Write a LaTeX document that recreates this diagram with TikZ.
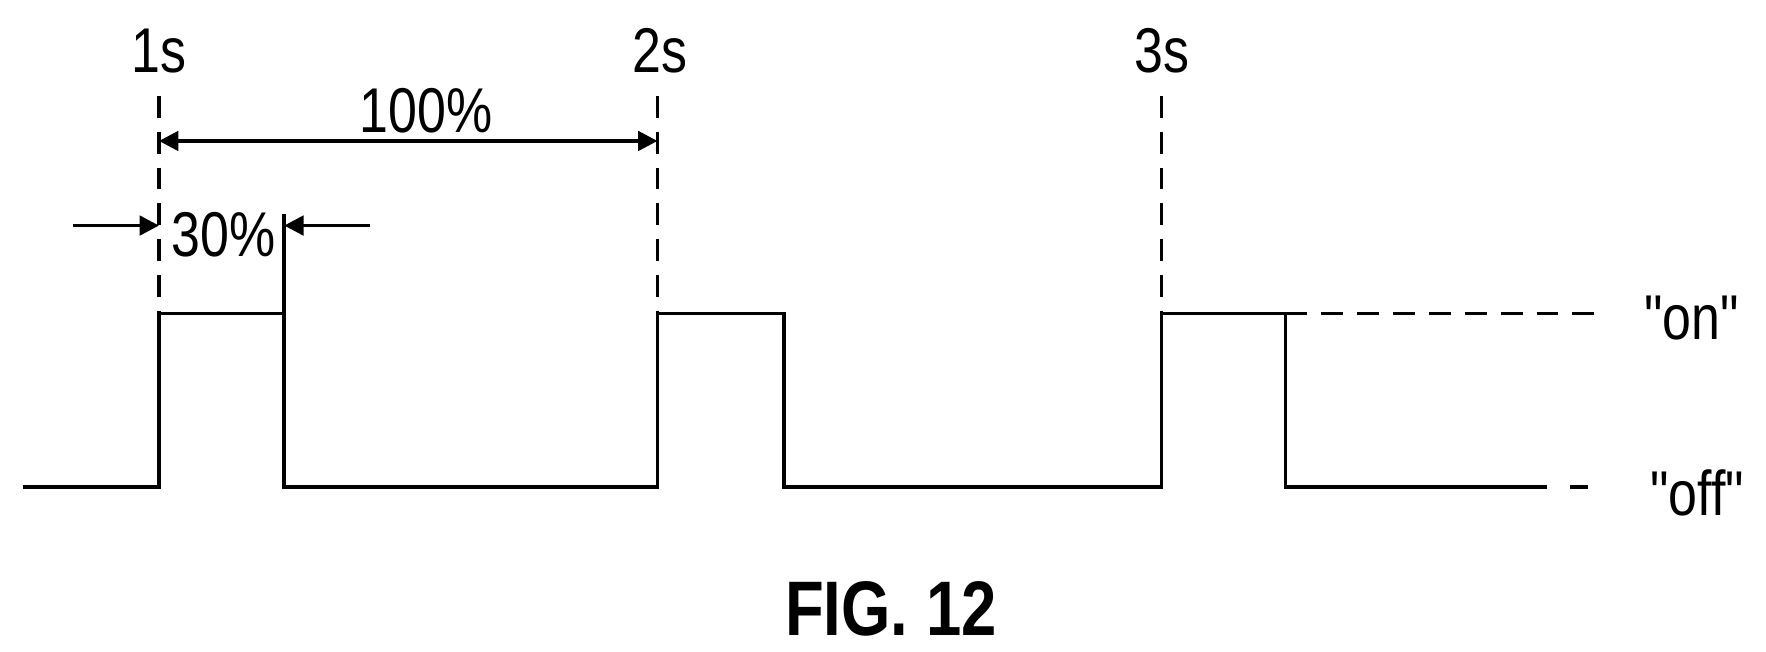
\documentclass[tikz,border=0pt]{standalone}
\usepackage{fontspec}
\setmainfont{Liberation Sans}[Ligatures=TeXOff]
\usetikzlibrary{arrows.meta}
\begin{document}
\begin{tikzpicture}[x=0.011277cm,y=-0.011277cm,
  wave/.style={line width=1.05pt},
  dashd/.style={line width=1.05pt,dash pattern=on 6.2pt off 4pt},
  tip/.tip={Triangle[length=5.5pt,width=5.5pt]},
  dim/.style={line width=1.05pt,-tip},
  lbl/.style={font=\fontsize{18}{20}\selectfont,inner sep=0pt,xscale=0.82}]
\useasboundingbox (0,0) rectangle (1566,578);
\coordinate (s) at (20,432);
\coordinate (r1b) at (141,432); \coordinate (r1t) at (141,278);
\coordinate (f1t) at (252,278); \coordinate (f1b) at (252,432);
\coordinate (r2b) at (583,432); \coordinate (r2t) at (583,278);
\coordinate (f2t) at (695,278); \coordinate (f2b) at (695,432);
\coordinate (r3b) at (1030,432); \coordinate (r3t) at (1030,278);
\coordinate (f3t) at (1140,278); \coordinate (f3b) at (1140,432);
\coordinate (e) at (1372,432);
\draw[wave] (s)--(r1b)--(r1t)--(f1t)--(f1b)--(r2b)--(r2t)--(f2t)--(f2b)--(r3b)--(r3t)--(f3t)--(f3b)--(e);
\coordinate (onend) at (1418,278);
\draw[dashd] (f3t)--(onend);
\coordinate (offa) at (1392,432); \coordinate (offb) at (1408,432);
\draw[line width=1.05pt] (offa)--(offb);
\node[lbl] (on) at (1500,282) {"on"};
\node[lbl] (off) at (1505,437) {"off"};
\node[lbl] (t1) at (141,45) {1s};
\node[lbl] (t2) at (585,45) {2s};
\node[lbl] (t3) at (1030,45) {3s};
\draw[dashd] (141,85)--(r1t);
\draw[dashd] (583,85)--(r2t);
\draw[dashd] (1030,85)--(r3t);
\coordinate (a1) at (141,125); \coordinate (a2) at (583,125);
\draw[line width=1.05pt,tip-tip] (a1)--(a2);
\node[lbl] (p100) at (378,98) {100\%};
\coordinate (l1) at (65,200); \coordinate (l2) at (141,200);
\coordinate (m1) at (328,200); \coordinate (m2) at (252,200);
\draw[dim] (l1)--(l2);
\draw[dim] (m1)--(m2);
\draw[wave] (252,190)--(f1t);
\node[lbl] (p30) at (198,208) {30\%};
\node[font=\bfseries\fontsize{22}{26}\selectfont,inner sep=0pt,xscale=0.82] (fig) at (790,540) {FIG. 12};
\end{tikzpicture}
\end{document}
